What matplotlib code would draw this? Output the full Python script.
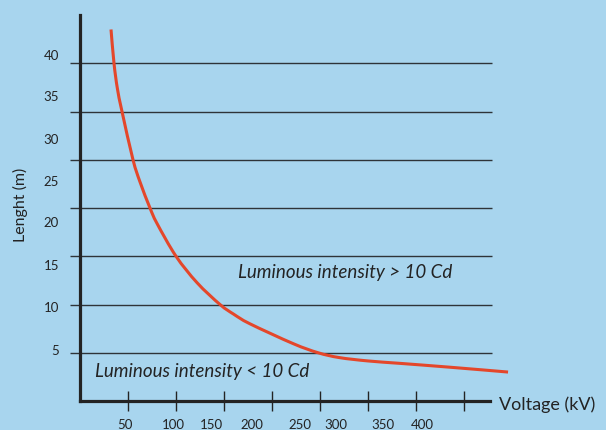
import matplotlib
matplotlib.use("Agg")
import matplotlib.pyplot as plt
from matplotlib.path import Path
from matplotlib.patches import PathPatch
import numpy as np

# curve (voltage kV, length m)
voltage = [32.3, 35.4, 38.9, 43.75, 55.2, 62.5, 72.9, 80.2, 100, 122, 145.8,
           160, 177, 221.9, 248, 270, 300, 333.3, 385.4, 445.8]
length = [38.5, 35.0, 32.4, 30.0, 25.0, 22.7, 20.0, 18.4, 15.0, 12.25, 10.0,
          9.0, 8.0, 5.95, 5.0, 4.5, 4.15, 3.9, 3.5, 3.0]

grid_levels = [5, 10, 15, 20, 25, 30, 35]
x_ticks = [50, 100, 150, 200, 250, 300, 350, 400]
# labels are drawn a bit off the ticks in the original
x_label_pos = [47, 97, 137, 179, 229, 267, 316, 357]
x_labels = ["50", "100", "150", "200", "250", "300", "350", "400"]
y_label_pos = [5.3, 9.7, 14.1, 18.5, 22.8, 27.2, 31.6, 35.9]
y_labels = ["5", "10", "15", "20", "25", "30", "35", "40"]

bg = "#a8d5ee"
ink = "#232323"
red = "#e4472b"


def smooth_path(xs, ys):
    # catmull-rom through the read points, drawn as cubic beziers
    p = np.column_stack([xs, ys])
    p = np.vstack([p[0], p, p[-1]])
    verts = [p[1]]
    codes = [Path.MOVETO]
    for i in range(1, len(p) - 2):
        c1 = p[i] + (p[i + 1] - p[i - 1]) / 6
        c2 = p[i + 1] - (p[i + 2] - p[i]) / 6
        verts += [c1, c2, p[i + 1]]
        codes += [Path.CURVE4] * 3
    return Path(verts, codes)


plt.rcParams["font.family"] = ["Lato", "DejaVu Sans"]

fig = plt.figure(figsize=(6.06, 4.30), dpi=100, facecolor=bg)
ax = fig.add_axes([80 / 606, 29 / 430, 410 / 606, 386 / 430])
ax.set_facecolor(bg)
ax.set_xlim(0, 427)
ax.set_ylim(0, 40)

for s in ["top", "right"]:
    ax.spines[s].set_visible(False)
for s in ["left", "bottom"]:
    ax.spines[s].set_linewidth(2.3)
    ax.spines[s].set_color(ink)

ax.hlines(grid_levels, -10.4, 429, colors="#2e3438", lw=1.0, clip_on=False, zorder=1)
curve = PathPatch(smooth_path(voltage, length), fill=False, edgecolor=red, lw=2.2,
                  capstyle="butt", clip_on=False, zorder=3)
ax.add_patch(curve)

ax.set_xticks(x_ticks)
ax.set_xticklabels([])
ax.tick_params(axis="x", which="major", direction="inout", length=14.5, width=1.0, color=ink)
ax.set_xticks(x_label_pos, minor=True)
ax.set_xticklabels(x_labels, minor=True)
ax.tick_params(axis="x", which="minor", length=0, pad=13, labelsize=9.5, labelcolor=ink)

ax.set_yticks([])
ax.set_yticks(y_label_pos, minor=True)
ax.set_yticklabels(y_labels, minor=True)
ax.tick_params(axis="y", which="minor", length=0, pad=15, labelsize=9.5, labelcolor=ink)

ax.text(164.6, 13.35, "Luminous intensity > 10 Cd", style="italic", fontsize=13.5,
        color=ink, ha="left", va="center")
ax.text(15.6, 3.1, "Luminous intensity < 10 Cd", style="italic", fontsize=13.5,
        color=ink, ha="left", va="center")

fig.text(499 / 606, 1 - 405 / 430, "Voltage (kV)", fontsize=13, color=ink,
         ha="left", va="center")
fig.text(20 / 606, 1 - 205 / 430, "Lenght (m)", fontsize=11.5, color=ink,
         ha="center", va="center", rotation=90)

fig.savefig("out.png", dpi=100, facecolor=bg)
